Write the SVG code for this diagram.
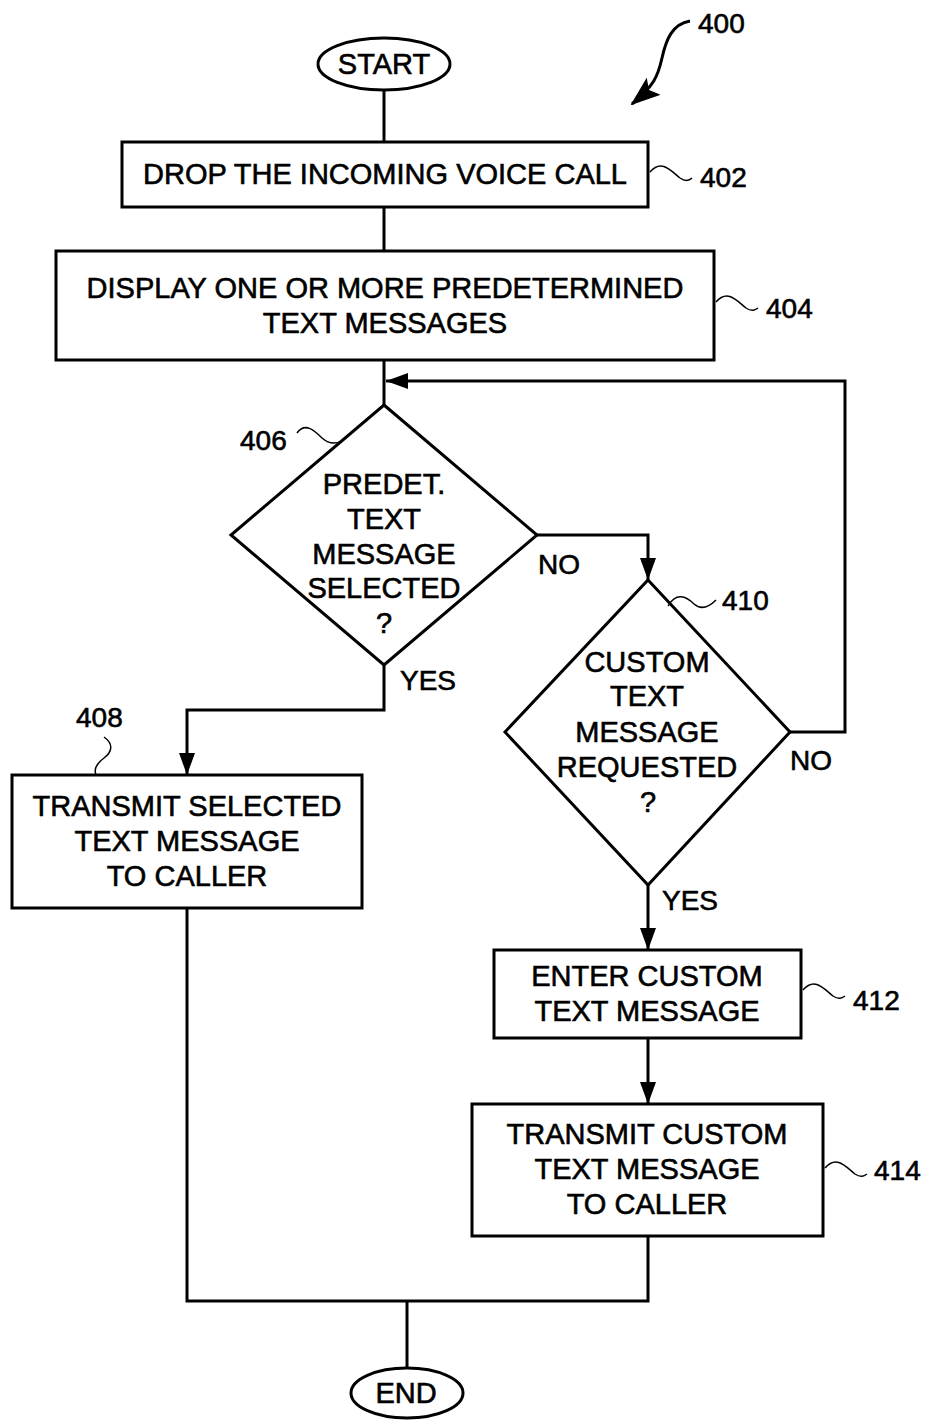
<svg xmlns="http://www.w3.org/2000/svg" width="928" height="1420" viewBox="0 0 928 1420">
<style>
.s{fill:#fff;stroke:#000;stroke-width:3}
.t{font-family:"Liberation Sans",Arial,sans-serif;font-size:29px;fill:#000;stroke:#000;stroke-width:0.6;text-anchor:middle}
.l{font-family:"Liberation Sans",Arial,sans-serif;font-size:28px;fill:#000;stroke:#000;stroke-width:0.6}
.c{fill:none;stroke:#000;stroke-width:3}
.q{fill:none;stroke:#000;stroke-width:1.5}
</style>
<defs>
<marker id="ah" viewBox="0 0 22 16" refX="22" refY="8" markerWidth="22" markerHeight="16" markerUnits="userSpaceOnUse" orient="auto">
<path d="M0,0 L22,8 L0,16 Z" fill="#000"/>
</marker>
<marker id="ah2" viewBox="0 0 30 22" refX="28" refY="11" markerWidth="30" markerHeight="22" markerUnits="userSpaceOnUse" orient="auto">
<path d="M0,0 L30,11 L0,22 L6,11 Z" fill="#000"/>
</marker>
</defs>
<g id="connectors">
<path class="c" d="M384,90 V142"/>
<path class="c" d="M384,207 V251"/>
<path class="c" d="M384,360 V405"/>
<path class="c" d="M790,732 H845 V381 H386" marker-end="url(#ah)"/>
<path class="c" d="M537,535 H648 V580" marker-end="url(#ah)"/>
<path class="c" d="M384,665 V710 H187 V775" marker-end="url(#ah)"/>
<path class="c" d="M648,885 V950" marker-end="url(#ah)"/>
<path class="c" d="M648,1038 V1104" marker-end="url(#ah)"/>
<path class="c" d="M187,908 V1301 H648 V1236"/>
<path class="c" d="M407,1301 V1368"/>
<text class="l" x="538" y="574">NO</text>
<text class="l" x="400" y="690">YES</text>
<text class="l" x="790" y="770">NO</text>
<text class="l" x="662" y="910">YES</text>
</g>
<g id="ref400">
<path class="c" d="M690,21 C672,24 666,40 662,58 C658,76 654,86 632,104" marker-end="url(#ah2)"/>
<text class="l" x="698" y="33">400</text>
</g>
<g id="start">
<ellipse class="s" cx="384" cy="64" rx="66" ry="26"/>
<text class="t" x="384" y="74">START</text>
</g>
<g id="n402">
<rect class="s" x="122" y="142" width="526" height="65"/>
<text class="t" x="385" y="184">DROP THE INCOMING VOICE CALL</text>
<path class="q" d="M650,172 C662,158 672,172 680,178 C686,182 690,180 692,178"/>
<text class="l" x="700" y="187">402</text>
</g>
<g id="n404">
<rect class="s" x="56" y="251" width="658" height="109"/>
<text class="t" x="385" y="298">DISPLAY ONE OR MORE PREDETERMINED</text>
<text class="t" x="385" y="333">TEXT MESSAGES</text>
<path class="q" d="M716,302 C728,288 738,302 746,308 C752,312 755,310 758,308"/>
<text class="l" x="766" y="318">404</text>
</g>
<g id="n406">
<polygon class="s" points="384,405 537,535 384,665 231,535"/>
<text class="t" x="384" y="494">PREDET.</text>
<text class="t" x="384" y="529">TEXT</text>
<text class="t" x="384" y="564">MESSAGE</text>
<text class="t" x="384" y="598">SELECTED</text>
<text class="t" x="384" y="633">?</text>
<path class="q" d="M297,433 C305,422 314,430 322,438 C330,445 337,444 343,440"/>
<text class="l" x="240" y="450">406</text>
</g>
<g id="n410">
<polygon class="s" points="648,580 790,732 648,885 505,732"/>
<text class="t" x="647" y="672">CUSTOM</text>
<text class="t" x="647" y="706">TEXT</text>
<text class="t" x="647" y="742">MESSAGE</text>
<text class="t" x="647" y="777">REQUESTED</text>
<text class="t" x="648" y="812">?</text>
<path class="q" d="M668,606 C676,592 686,596 694,604 C702,611 710,606 716,600"/>
<text class="l" x="722" y="610">410</text>
</g>
<g id="n408">
<rect class="s" x="12" y="775" width="350" height="133"/>
<text class="t" x="187" y="816">TRANSMIT SELECTED</text>
<text class="t" x="187" y="851">TEXT MESSAGE</text>
<text class="t" x="187" y="886">TO CALLER</text>
<path class="q" d="M104,737 C114,744 112,752 104,758 C96,764 94,770 96,775"/>
<text class="l" x="76" y="727">408</text>
</g>
<g id="n412">
<rect class="s" x="494" y="950" width="307" height="88"/>
<text class="t" x="647" y="986">ENTER CUSTOM</text>
<text class="t" x="647" y="1021">TEXT MESSAGE</text>
<path class="q" d="M803,990 C815,976 825,990 833,996 C839,1000 842,998 845,996"/>
<text class="l" x="853" y="1010">412</text>
</g>
<g id="n414">
<rect class="s" x="472" y="1104" width="351" height="132"/>
<text class="t" x="647" y="1144">TRANSMIT CUSTOM</text>
<text class="t" x="647" y="1179">TEXT MESSAGE</text>
<text class="t" x="647" y="1214">TO CALLER</text>
<path class="q" d="M825,1168 C837,1154 847,1168 855,1174 C861,1178 864,1176 867,1174"/>
<text class="l" x="874" y="1180">414</text>
</g>
<g id="end">
<ellipse class="s" cx="407" cy="1393" rx="56" ry="25"/>
<text class="t" x="406" y="1403">END</text>
</g>
</svg>
